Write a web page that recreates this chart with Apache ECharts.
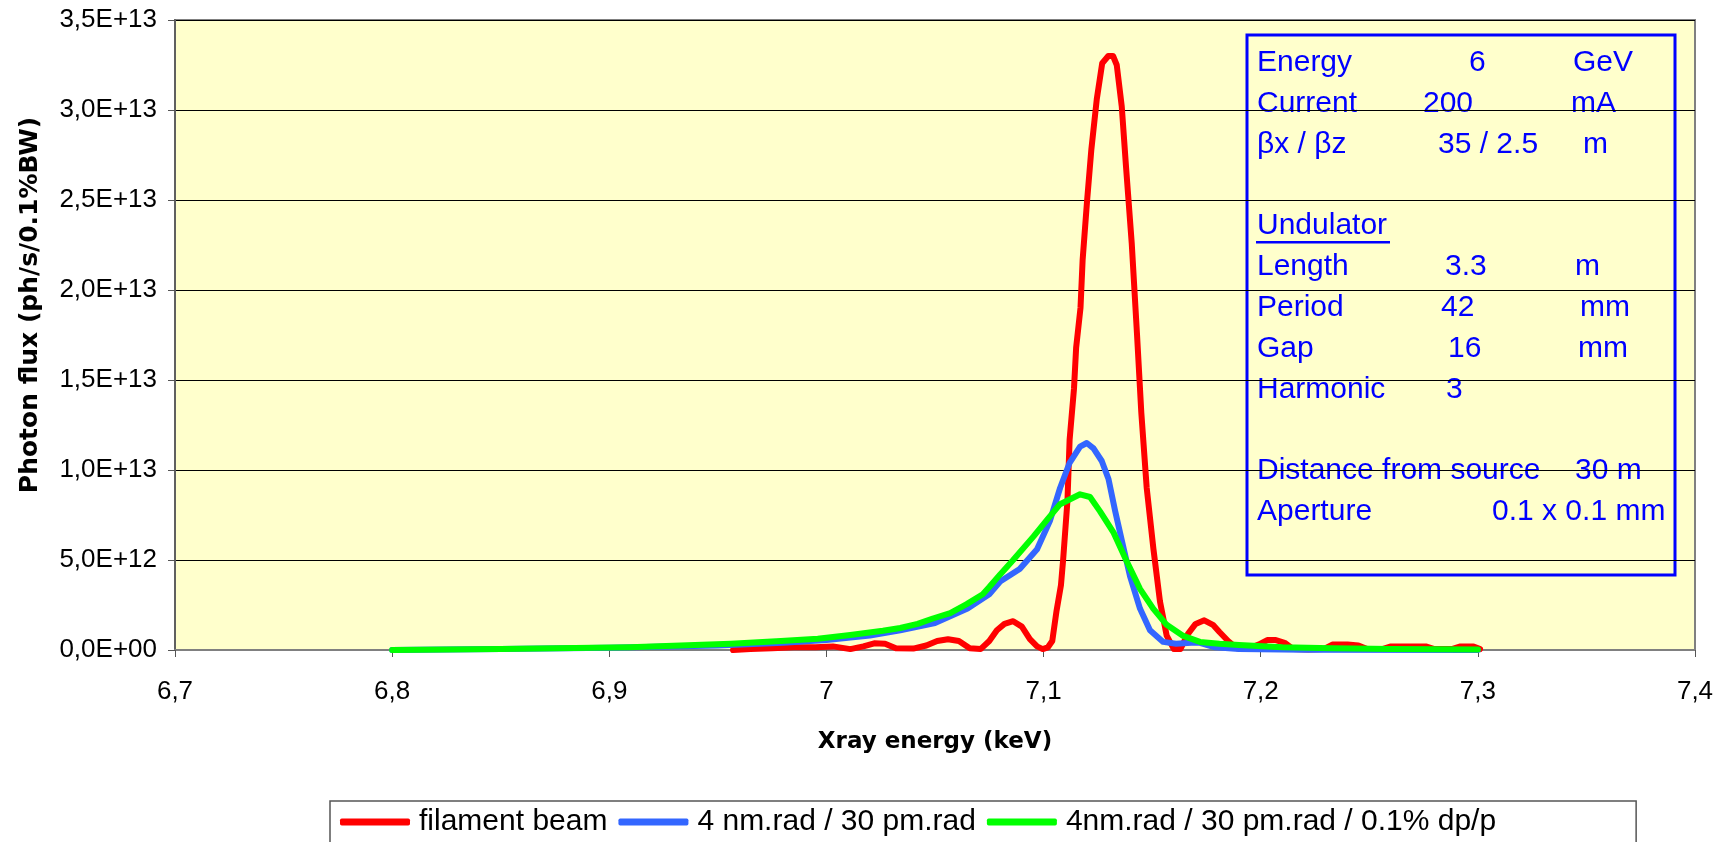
<!DOCTYPE html>
<html>
<head>
<meta charset="utf-8">
<title>Photon flux vs Xray energy</title>
<script src="https://cdn.jsdelivr.net/npm/echarts@6/dist/echarts.min.js"></script>
<style>
  html, body { margin: 0; padding: 0; background: #ffffff; }
  #chart { width: 1725px; height: 842px; }
</style>
</head>
<body>
<div id="chart"></div>
<script>
// Series names (legend order)
const seriesNames = [
  'filament beam',
  '4 nm.rad / 30 pm.rad',
  '4nm.rad / 30 pm.rad / 0.1% dp/p'
];

// Filament beam: energy (keV) and flux (units of 1E+12 ph/s/0.1%BW)
const filamentEnergy = [
  6.957, 6.965, 6.975, 6.985, 6.995, 7.003, 7.011, 7.017, 7.022, 7.027,
  7.032, 7.040, 7.046, 7.051, 7.056, 7.061, 7.066, 7.071, 7.075, 7.0785,
  7.082, 7.086, 7.090, 7.0937, 7.097, 7.0996, 7.102, 7.104, 7.106, 7.108,
  7.109, 7.111, 7.112, 7.114, 7.115, 7.117, 7.118, 7.120, 7.122, 7.1245,
  7.127, 7.1298, 7.132, 7.1337, 7.136, 7.138, 7.1406, 7.143, 7.145, 7.1475,
  7.1506, 7.1536, 7.1567, 7.160, 7.163, 7.1665, 7.170, 7.174, 7.178, 7.181,
  7.185, 7.189, 7.194, 7.199, 7.203, 7.207, 7.211, 7.215, 7.222, 7.229,
  7.233, 7.240, 7.245, 7.249, 7.256, 7.260, 7.268, 7.276, 7.280, 7.288,
  7.292, 7.298, 7.301
];
const filamentFluxE12 = [
  0.0, 0.05, 0.1, 0.15, 0.15, 0.2, 0.05, 0.2, 0.37, 0.35,
  0.1, 0.08, 0.25, 0.5, 0.6, 0.5, 0.1, 0.05, 0.5, 1.1,
  1.45, 1.6, 1.3, 0.6, 0.2, 0.05, 0.15, 0.5, 2.2, 3.6,
  5.0, 8.3, 11.7, 14.5, 16.8, 19.0, 21.7, 24.9, 27.8, 30.6,
  32.6, 33.0, 33.0, 32.5, 30.2, 26.8, 22.6, 17.6, 13.2, 9.0,
  5.6, 2.7, 0.8, 0.05, 0.05, 0.9, 1.45, 1.65, 1.4, 1.0,
  0.5, 0.1, 0.05, 0.3, 0.55, 0.55, 0.4, 0.05, 0.03, 0.05,
  0.3, 0.3, 0.25, 0.05, 0.05, 0.2, 0.2, 0.2, 0.05, 0.05,
  0.2, 0.2, 0.05
];

// 4 nm.rad / 30 pm.rad
const emitEnergy = [
  6.80, 6.85, 6.90, 6.95, 6.98, 7.00, 7.02, 7.034, 7.05, 7.065,
  7.075, 7.080, 7.089, 7.097, 7.103, 7.1076, 7.112, 7.1168, 7.1199, 7.123,
  7.1268, 7.1299, 7.133, 7.136, 7.1398, 7.1444, 7.149, 7.1551, 7.161, 7.168,
  7.172, 7.179, 7.19, 7.22, 7.30
];
const emitFluxE12 = [
  0.0, 0.05, 0.12, 0.25, 0.4, 0.55, 0.8, 1.1, 1.5, 2.3,
  3.1, 3.8, 4.5, 5.6, 7.2, 9.0, 10.4, 11.3, 11.5, 11.2,
  10.5, 9.5, 7.7, 6.1, 4.1, 2.3, 1.1, 0.45, 0.35, 0.4,
  0.4, 0.15, 0.05, 0.02, 0.0
];

// 4nm.rad / 30 pm.rad / 0.1% dp/p
const spreadEnergy = [
  6.80, 6.85, 6.9095, 6.956, 6.979, 6.996, 7.011, 7.026, 7.034, 7.042,
  7.049, 7.057, 7.0646, 7.072, 7.075, 7.080, 7.086, 7.0953, 7.1014, 7.1076,
  7.1168, 7.1214, 7.126, 7.1321, 7.138, 7.1444, 7.1505, 7.1567, 7.164, 7.172,
  7.181, 7.19, 7.21, 7.233, 7.26, 7.30
];
const spreadFluxE12 = [
  0.0, 0.05, 0.15, 0.35, 0.5, 0.63, 0.83, 1.07, 1.22, 1.45,
  1.75, 2.05, 2.55, 3.1, 3.5, 4.2, 5.0, 6.3, 7.2, 8.1,
  8.65, 8.5, 7.7, 6.55, 5.0, 3.4, 2.3, 1.4, 0.8, 0.45,
  0.35, 0.28, 0.15, 0.1, 0.05, 0.03
];

// Parameter panel: label, value, unit
const infoRows = [
  ['Energy', '6', 'GeV'],
  ['Current', '200', 'mA'],
  ['\u03b2x / \u03b2z', '35 / 2.5', 'm'],
  ['', '', ''],
  ['Undulator', '', ''],
  ['Length', '3.3', 'm'],
  ['Period', '42', 'mm'],
  ['Gap', '16', 'mm'],
  ['Harmonic', '3', ''],
  ['', '', ''],
  ['Distance from source', '30 m', ''],
  ['Aperture', '0.1 x 0.1 mm', '']
];

// Axis ranges
const xMin = 6.7, xMax = 7.4, xStep = 0.1;
const yMin = 0, yMax = 3.5e13, yStep = 5e12;

function toPairs(xs, ysE12) {
  return xs.map((x, i) => [x, ysE12[i] * 1e12]);
}

const FONT = '"Liberation Sans", Arial, sans-serif';
const TITLE_FONT = '"DejaVu Sans", "Liberation Sans", sans-serif';
const colors = ['#ff0000', '#3366ff', '#00ff00'];

// Layout of the parameter panel (pixel positions)
const panel = { x: 1247, y: 35, w: 428, h: 540 };
const rowTop = 63, rowStep = 40.8;
const labelX = 1257;
const valueX = [1469, 1423, 1438, 0, 0, 1445, 1441, 1448, 1446, 0, 1575, 1492];
const unitX  = [1573, 1571, 1583, 0, 0, 1575, 1580, 1578, 0, 0, 0, 0];

const panelChildren = [{
  type: 'rect',
  shape: { x: panel.x, y: panel.y, width: panel.w, height: panel.h },
  style: { fill: '#ffffcc', stroke: '#0000ff', lineWidth: 3 }
}];
const txtStyle = (text, x, y) => ({
  type: 'text', x: x, y: y,
  style: { text: text, fill: '#0000ff', font: '30px ' + FONT, verticalAlign: 'middle' }
});
infoRows.forEach((row, i) => {
  const y = rowTop + i * rowStep;
  if (row[0]) panelChildren.push(txtStyle(row[0], labelX, y));
  if (row[1]) panelChildren.push(txtStyle(row[1], valueX[i], y));
  if (row[2]) panelChildren.push(txtStyle(row[2], unitX[i], y));
});
// underline below the "Undulator" heading
panelChildren.push({
  type: 'line',
  shape: { x1: 1256, y1: rowTop + 4 * rowStep + 16, x2: 1390, y2: rowTop + 4 * rowStep + 16 },
  style: { stroke: '#0000ff', lineWidth: 2.5 }
});

const chart = echarts.init(document.getElementById('chart'), null, { renderer: 'canvas' });

const option = {
  animation: false,
  backgroundColor: '#ffffff',
  textStyle: { fontFamily: FONT },
  grid: {
    left: 175, top: 20, width: 1520, height: 630,
    show: true, backgroundColor: '#ffffcc', borderColor: '#808080', borderWidth: 2
  },
  legend: {
    left: 330, top: 801,
    padding: [6, 140, 20, 10],
    itemGap: 11,
    itemWidth: 70, itemHeight: 7,
    icon: 'roundRect',
    borderColor: '#555555', borderWidth: 1.5,
    backgroundColor: '#ffffff',
    textStyle: { fontSize: 30, color: '#000000', fontFamily: FONT, padding: [0, 0, 0, 4] },
    data: seriesNames
  },
  xAxis: {
    type: 'value', min: xMin, max: xMax, interval: xStep,
    name: 'Xray energy (keV)', nameLocation: 'middle', nameGap: 81,
    nameTextStyle: { fontSize: 23, fontWeight: 'bold', color: '#000000', fontFamily: TITLE_FONT },
    axisLine: { show: true, onZero: false, lineStyle: { color: '#808080', width: 2 } },
    axisTick: { show: true, inside: false, length: 7, lineStyle: { color: '#555555', width: 1 } },
    axisLabel: {
      fontSize: 26, color: '#000000', margin: 29, fontFamily: FONT,
      formatter: v => String(Math.round(v * 10) / 10).replace('.', ',')
    },
    splitLine: { show: false }
  },
  yAxis: {
    type: 'value', min: yMin, max: yMax, interval: yStep,
    name: 'Photon flux (ph/s/0.1%BW)', nameLocation: 'middle', nameGap: 132,
    nameTextStyle: {
      fontSize: 25, fontWeight: 'bold', color: '#000000', fontFamily: TITLE_FONT,
      padding: [0, 0, 0, 60]
    },
    axisLine: { show: true, lineStyle: { color: '#606060', width: 2 } },
    axisTick: { show: true, inside: false, length: 7, lineStyle: { color: '#555555', width: 1 } },
    axisLabel: {
      fontSize: 26, color: '#000000', margin: 18, fontFamily: FONT,
      formatter: v => {
        const [m, e] = v.toExponential(1).split('e');
        const exp = parseInt(e, 10);
        return m.replace('.', ',') + 'E' + (exp < 0 ? '-' : '+') + String(Math.abs(exp)).padStart(2, '0');
      }
    },
    splitLine: { show: true, lineStyle: { color: '#000000', width: 1 } }
  },
  series: [
    { name: seriesNames[0], type: 'line', data: toPairs(filamentEnergy, filamentFluxE12) },
    { name: seriesNames[1], type: 'line', data: toPairs(emitEnergy, emitFluxE12) },
    { name: seriesNames[2], type: 'line', data: toPairs(spreadEnergy, spreadFluxE12) }
  ].map((s, i) => Object.assign(s, {
    showSymbol: false, symbol: 'none', smooth: false,
    lineStyle: { color: colors[i], width: 6, join: 'round', cap: 'round' },
    itemStyle: { color: colors[i] },
    z: 2 + i
  })),
  graphic: [{ type: 'group', children: panelChildren, z: 100 }]
};

chart.setOption(option);
</script>
</body>
</html>
